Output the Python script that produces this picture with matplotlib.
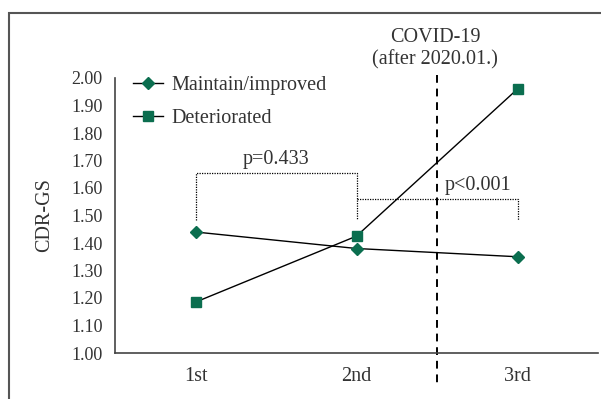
import matplotlib
matplotlib.use("Agg")
import matplotlib.pyplot as plt
from matplotlib.patches import Rectangle

plt.rcParams['font.family'] = ['Liberation Serif', 'DejaVu Serif']

visits = ["1st", "2nd", "3rd"]
maintain = [1.44, 1.38, 1.35]
deteriorated = [1.185, 1.425, 1.96]
yticks = [1.00, 1.10, 1.20, 1.30, 1.40, 1.50, 1.60, 1.70, 1.80, 1.90, 2.00]

green = "#0b6e4f"
txt = "#333333"
fs = 14.5

fig = plt.figure(figsize=(6.01, 3.99), dpi=100)
ax = fig.add_axes([115 / 601, 1 - 353 / 399, 483 / 601, 275 / 399])

x = [1, 2, 3]
ax.plot(x, maintain, color="black", lw=1, marker="D", ms=6.5,
        mfc=green, mec=green, label="Maintain/improved", zorder=3)
ax.plot(x, deteriorated, color="black", lw=1, marker="s", ms=7.5,
        mfc=green, mec=green, label="Deteriorated", zorder=3)

ax.set_xlim(0.5, 3.5)
ax.set_ylim(1.0, 2.0)
ax.set_xticks(x)
ax.set_xticklabels(visits)
ax.set_yticks(yticks)
ax.set_yticklabels([f"{v:.2f}" for v in yticks])
ax.tick_params(axis="y", length=0, labelsize=13, colors=txt, pad=9)
ax.tick_params(axis="x", length=0, labelsize=fs, colors=txt, pad=10)
for s in ["top", "right"]:
    ax.spines[s].set_visible(False)
for s in ["left", "bottom"]:
    ax.spines[s].set_color("#444444")
    ax.spines[s].set_linewidth(1.2)
ax.set_ylabel("CDR-GS", fontsize=fs, color=txt, labelpad=12)

# COVID-19 onset line between 2nd and 3rd visit
ax.plot([2.5, 2.5], [2.01, 0.885], color="black", lw=1.4, ls=(0, (4, 3)),
        clip_on=False, zorder=2)
fig.text(435 / 601, 1 - 38 / 399, "COVID-19", ha="center", va="center",
         fontsize=fs, color=txt)
fig.text(435 / 601, 1 - 60 / 399, "(after 2020.01.)", ha="center", va="center",
         fontsize=fs, color=txt)

# significance brackets
dot = dict(color="black", lw=0.9, ls=(0, (1, 1)))
ax.plot([1, 1, 2, 2], [1.484, 1.655, 1.655, 1.484], **dot)
ax.plot([2, 3, 3], [1.56, 1.56, 1.484], **dot)
ax.text(1.5, 1.67, "p=0.433", ha="center", va="bottom", fontsize=fs, color=txt)
ax.text(2.55, 1.575, "p<0.001", ha="left", va="bottom", fontsize=fs, color=txt)

ax.legend(loc="upper left", bbox_to_anchor=(0.0, 1.075), frameon=False,
          fontsize=fs, handlelength=1.5, labelspacing=0.7, handletextpad=0.4,
          labelcolor=txt)

# outer frame
fig.patches.append(Rectangle((9 / 601, -0.1), 1.1, 1 - 13 / 399 + 0.1,
                             transform=fig.transFigure, fill=False,
                             ec="#555555", lw=1.5))

fig.savefig("out.png", dpi=100)
